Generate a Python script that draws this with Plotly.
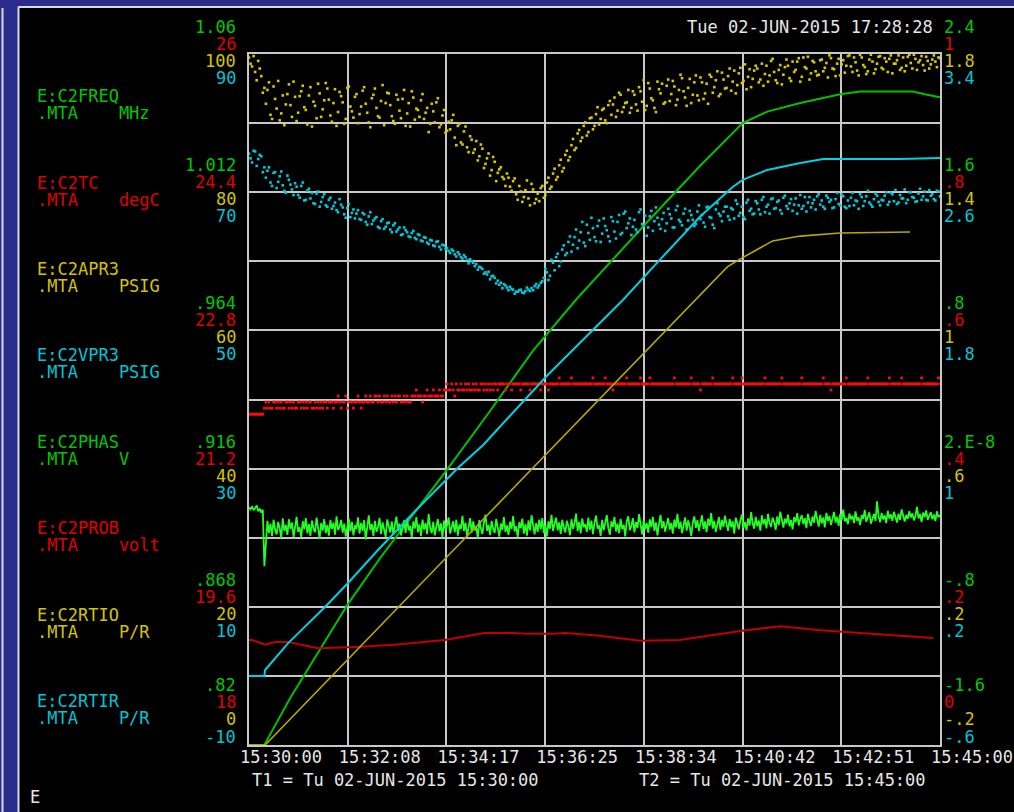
import numpy as np
import plotly.graph_objects as go

W, H = 1014, 812
L, R, T, B = 249, 940, 54, 745   # plot frame in pixels

def xp(px):
    return (px - L) / (R - L)

def yp(py):
    return (B - py) / (B - T)

# ---------------- axis labels / ticks ----------------
time_labels = ["15:30:00", "15:32:08", "15:34:17", "15:36:25",
               "15:38:34", "15:40:42", "15:42:51", "15:45:00"]
t_end = 900.0  # seconds, 15:30:00 -> 15:45:00

freq_ticks = [1.06, 1.012, 0.964, 0.916, 0.868, 0.82]
freq_tick_text = ["1.06", "1.012", ".964", ".916", ".868", ".82"]
tc_ticks = [26, 24.4, 22.8, 21.2, 19.6, 18]
tc_tick_text = ["26", "24.4", "22.8", "21.2", "19.6", "18"]
apr3_ticks = [100, 80, 60, 40, 20, 0]
apr3_tick_text = ["100", "80", "60", "40", "20", "0"]
vpr3_ticks = [90, 70, 50, 30, 10, -10]
vpr3_tick_text = ["90", "70", "50", "30", "10", "-10"]

phas_ticks = [2.4, 1.6, 0.8, 0.0, -0.8, -1.6]
phas_tick_text = ["2.4", "1.6", ".8", "2.E-8", "-.8", "-1.6"]
prob_ticks = [1, 0.8, 0.6, 0.4, 0.2, 0]
prob_tick_text = ["1", ".8", ".6", ".4", ".2", "0"]
rtio_ticks = [1.8, 1.4, 1.0, 0.6, 0.2, -0.2]
rtio_tick_text = ["1.8", "1.4", "1", ".6", ".2", "-.2"]
rtir_ticks = [3.4, 2.6, 1.8, 1.0, 0.2, -0.6]
rtir_tick_text = ["3.4", "2.6", "1.8", "1", ".2", "-.6"]

# ---------------- data ----------------
# C2FREQ (MHz) ramp : time [s], value
freq_t = [0, 20, 22, 53, 92, 129, 171, 214, 259, 314, 370, 427, 513, 587, 643,
          675, 718, 770, 796, 865, 880, 900]
freq_v = [0.820, 0.820, 0.821, 0.836, 0.853, 0.869, 0.885, 0.900, 0.916, 0.936,
          0.957, 0.975, 1.000, 1.021, 1.036, 1.040, 1.043, 1.046, 1.047, 1.047,
          1.046, 1.045]

# C2RTIR (P/R) ramp
rtir_t = [0, 20, 21, 51, 99, 129, 168, 214, 272, 305, 389, 487, 535, 587, 630,
          643, 675, 718, 748, 848, 900]
rtir_v = [-0.201, -0.201, -0.166, -0.010, 0.199, 0.338, 0.529, 0.743, 1.003,
          1.137, 1.542, 1.976, 2.208, 2.456, 2.630, 2.671, 2.729, 2.769, 2.792,
          2.792, 2.798]

# C2RTIO (P/R) ramp
rtio_t = [0, 21, 258, 392, 578, 623, 640, 682, 718, 770, 861]
rtio_v = [-0.200, -0.200, 0.345, 0.653, 1.082, 1.184, 1.207, 1.259, 1.273,
          1.282, 1.285]

# C2PROB (volt)
prob_t = [0, 4, 21, 34, 51, 90, 138, 190, 255, 307, 343, 363, 395, 412, 457,
          509, 561, 640, 692, 744, 796, 848, 891]
prob_v = [0.152, 0.152, 0.145, 0.149, 0.149, 0.140, 0.142, 0.145, 0.152, 0.162,
          0.162, 0.161, 0.161, 0.162, 0.158, 0.151, 0.152, 0.165, 0.172, 0.166,
          0.162, 0.158, 0.155]

# C2APR3 (PSIG) readings: set A at t = 0,4,8..., set B at t = 2,6,10...
apr3_a = [
    99.5, 98.2, 97.4, 99.0, 96.8, 95.1,
    94.8, 91.2, 95.3, 92.1, 90.4, 94.0, 92.7, 95.6, 90.9, 93.8,
    91.5, 94.6, 92.3, 89.8, 95.2, 93.1, 90.7, 94.3, 92.0, 95.8,
    93.4, 90.2, 94.9, 91.6, 93.9, 89.9, 95.1, 92.4, 90.8, 94.2,
    91.3, 94.7, 92.8, 90.1, 93.6, 95.0, 91.0, 93.2, 89.7, 94.4,
    92.6, 90.3, 94.1, 91.8, 93.5, 89.6, 92.9, 94.6, 90.5, 91.9,
    93.3, 90.6, 92.2, 89.9, 91.7, 93.0, 89.4, 91.1, 88.6, 90.2,
    90.4, 87.9, 89.6, 87.2, 88.8, 86.5, 88.1, 85.7, 87.4, 85.2,
    86.3, 84.1, 85.6, 83.2, 84.4, 82.8, 83.6, 81.9, 82.7, 80.8,
    81.6, 79.7, 80.9, 78.6, 80.3, 79.1, 81.2, 78.4, 79.8, 80.6,
    79.2, 81.4, 80.5, 82.7, 81.8, 83.9, 83.0, 85.4, 84.6, 86.8,
    86.1, 88.5, 87.4, 89.6, 88.2, 90.7, 89.1, 91.3, 89.8, 91.9,
    90.4, 92.6, 91.2, 93.7, 91.8, 94.1, 92.3, 93.0, 91.5, 94.6,
    92.7, 95.2, 93.1, 91.9, 95.8, 93.6, 92.2, 96.0, 94.3, 92.8,
    95.4, 93.2, 96.1, 92.6, 94.8, 96.5, 93.7, 95.1, 92.9, 95.9,
    94.0, 96.6, 93.5, 95.7, 97.0, 94.4, 96.2, 93.9, 97.3, 95.0,
    96.8, 94.7, 97.6, 95.5, 98.0, 96.1, 94.9, 97.8, 96.4, 98.3,
    95.9, 98.6, 97.1, 96.0, 99.0, 97.4, 95.8, 98.4, 97.0, 99.2,
    96.5, 98.9, 97.7, 99.4, 96.7, 98.1, 99.6, 97.2, 98.8, 96.9,
    99.1, 97.5, 98.7, 99.8, 97.9, 96.8, 99.3, 98.5, 97.3, 99.7,
    98.2, 99.5, 97.6, 99.9, 98.4, 97.1, 99.2, 98.9, 97.8, 99.6,
    98.0, 99.4, 97.4, 99.8, 98.6, 99.1, 97.7, 99.5, 98.3, 99.9,
    97.9, 99.3, 98.8, 99.7, 97.6, 99.0, 98.5, 99.8, 98.1, 99.4,
]
apr3_b = [
    98.6, 99.7, 96.2, 97.9, 94.4,
    92.8, 95.9, 90.6, 93.5, 96.1, 91.4, 89.7, 94.2, 92.6, 96.0,
    90.3, 93.9, 95.4, 91.9, 94.0, 89.5, 92.5, 95.7, 90.9, 93.3,
    95.0, 91.1, 92.9, 89.6, 94.5, 93.0, 90.6, 95.3, 91.7, 93.8,
    90.0, 92.4, 95.2, 91.5, 89.4, 94.1, 92.2, 90.8, 95.5, 92.9,
    94.3, 91.0, 89.9, 93.4, 90.7, 94.8, 91.4, 89.5, 93.7, 92.1,
    90.9, 94.2, 91.5, 88.7, 92.8, 90.1, 93.6, 89.8, 91.9, 88.9,
    89.1, 91.2, 86.8, 89.9, 86.9, 89.5, 85.8, 87.6, 86.2, 84.6,
    86.9, 83.5, 84.9, 82.4, 85.1, 81.6, 83.3, 82.2, 80.9, 82.1,
    80.2, 82.0, 78.9, 80.1, 79.3, 81.7, 78.1, 80.4, 79.0, 78.7,
    80.9, 79.6, 82.1, 80.8, 83.4, 82.2, 84.7, 83.5, 86.0, 85.1,
    87.7, 86.4, 89.0, 87.9, 90.1, 88.7, 90.8, 89.6, 92.3, 90.6,
    92.1, 90.0, 93.2, 92.7, 90.9, 94.4, 91.6, 92.9, 94.8, 92.2,
    94.1, 91.8, 94.6, 96.2, 92.5, 95.0, 93.3, 91.6, 94.9, 95.7,
    93.0, 96.3, 94.2, 95.3, 93.4, 97.0, 94.6, 92.5, 96.4, 94.1,
    96.9, 93.3, 95.9, 94.3, 92.8, 96.7, 95.2, 97.5, 94.2, 96.3,
    95.1, 97.9, 96.0, 94.3, 97.2, 95.8, 98.5, 96.7, 95.2, 97.6,
    97.9, 96.3, 95.4, 98.3, 96.9, 99.3, 96.2, 97.7, 95.6, 98.1,
    98.3, 96.1, 97.4, 98.9, 96.0, 99.5, 97.9, 96.3, 99.0, 97.5,
    97.0, 99.2, 98.0, 96.6, 99.4, 97.8, 98.6, 96.9, 99.1, 98.3,
    99.8, 97.4, 98.8, 96.9, 99.5, 98.1, 97.5, 99.9, 97.2, 98.6,
    99.7, 97.8, 98.9, 99.3, 97.2, 98.6, 99.8, 98.0, 97.5, 99.6,
    98.7, 99.9, 97.7, 99.1, 98.4, 99.6, 97.9, 99.2, 98.9, 99.5,
]

# C2VPR3 (PSIG) readings: set A at t = 0,4,8..., set B at t = 2,6,10...
vpr3_a = [
    75.6, 74.3, 75.9, 74.8, 75.2, 73.6,
    73.1, 71.4, 72.8, 70.6, 72.3, 71.0, 69.9, 71.8, 70.4, 71.3,
    69.6, 70.9, 68.8, 70.2, 69.1, 68.4, 69.8, 67.9, 69.3, 68.1,
    68.9, 67.6, 68.5, 67.1, 68.2, 66.8, 67.7, 66.4, 67.5, 66.9,
    66.1, 67.0, 65.7, 66.5, 65.4, 66.2, 65.0, 65.8, 64.7, 65.5,
    64.6, 65.2, 64.3, 64.9, 63.9, 64.5, 63.6, 64.1, 63.4, 63.9,
    63.0, 63.5, 62.7, 63.1, 62.3, 62.8, 62.1, 62.4, 61.8, 61.5,
    61.7, 61.0, 61.3, 60.6, 60.9, 60.2, 60.3, 59.8, 59.6, 59.2,
    58.9, 58.4, 58.5, 57.8, 57.6, 57.2, 56.9, 56.7, 56.2, 56.3,
    55.9, 55.6, 55.8, 55.5, 55.7, 55.9, 56.1, 56.4, 56.2, 56.9,
    57.6, 58.4, 57.9, 59.8, 60.6, 59.3, 61.7, 60.9, 62.8, 61.4,
    63.5, 61.9, 64.2, 62.7, 65.3, 63.1, 64.8, 62.9, 65.9, 64.0,
    65.1, 63.6, 66.4, 64.3, 65.7, 63.9, 66.9, 64.8, 66.2, 65.0,
    64.6, 67.1, 65.4, 66.6, 64.9, 67.3, 65.8, 66.3, 64.7, 67.0,
    65.5, 66.8, 64.9, 67.4, 66.0, 65.2, 67.6, 65.9, 66.7, 65.1,
    67.2, 66.1, 65.6, 67.8, 66.4, 65.3, 67.5, 66.9, 65.8, 67.9,
    66.5, 67.7, 66.2, 68.3, 67.0, 66.4, 68.5, 67.3, 66.8, 68.7,
    67.5, 68.9, 67.1, 68.2, 69.0, 67.6, 68.6, 67.4, 69.2, 68.0,
    68.4, 67.3, 69.1, 68.1, 67.6, 69.3, 68.5, 67.8, 68.9, 69.4,
    68.2, 67.9, 69.5, 68.6, 67.7, 69.0, 68.3, 69.6, 67.9, 68.8,
    69.2, 68.1, 68.7, 69.7, 68.0, 69.4, 68.5, 67.9, 69.8, 68.6,
    68.9, 69.5, 68.2, 69.9, 68.7, 68.3, 69.6, 69.1, 68.4, 70.0,
    69.3, 68.6, 69.8, 68.9, 70.1, 68.8, 69.5, 69.0, 70.2, 69.4,
]
vpr3_b = [
    74.9, 76.0, 73.8, 75.4, 72.9,
    72.1, 73.6, 70.9, 72.9, 71.5, 73.0, 70.2, 72.4, 71.1, 69.6,
    70.8, 69.2, 71.4, 68.9, 70.5, 69.9, 68.3, 70.1, 68.6, 69.7,
    67.9, 69.2, 68.0, 67.4, 69.0, 67.8, 66.3, 68.3, 67.0, 66.2,
    67.4, 66.0, 66.8, 65.3, 67.1, 65.9, 66.4, 64.8, 66.1, 65.0,
    65.6, 64.2, 65.5, 64.6, 63.8, 64.9, 64.2, 63.5, 64.4, 63.2,
    63.8, 62.9, 63.4, 62.5, 63.0, 62.2, 62.9, 61.7, 62.3, 61.9,
    61.2, 61.5, 60.7, 61.0, 60.4, 60.6, 59.7, 60.0, 59.3, 58.8,
    59.1, 58.2, 58.1, 57.4, 57.9, 56.8, 56.6, 56.1, 56.5, 55.8,
    56.0, 55.3, 55.6, 55.9, 55.4, 56.2, 55.7, 55.8, 56.7, 56.5,
    57.1, 58.9, 57.3, 60.2, 58.7, 61.1, 60.0, 62.3, 61.2, 63.6,
    62.4, 64.6, 63.0, 65.7, 62.2, 64.1, 66.3, 63.5, 65.1, 62.8,
    66.2, 64.5, 62.9, 65.8, 63.3, 66.7, 64.1, 67.2, 65.5, 63.8,
    66.0, 64.2, 67.5, 65.1, 63.7, 66.5, 64.4, 67.8, 65.3, 66.1,
    64.4, 67.6, 66.2, 64.9, 68.0, 65.7, 66.9, 64.6, 67.3, 66.0,
    65.4, 68.1, 66.7, 65.0, 67.9, 66.3, 64.8, 68.4, 66.6, 67.2,
    67.9, 66.0, 67.5, 68.8, 66.6, 67.9, 66.1, 68.9, 67.6, 66.9,
    68.4, 66.8, 69.3, 67.9, 66.9, 69.1, 67.7, 68.8, 66.9, 69.5,
    67.6, 69.0, 68.2, 66.9, 69.6, 68.0, 67.2, 69.3, 68.4, 67.5,
    69.7, 68.8, 67.6, 69.2, 68.9, 67.8, 69.9, 68.1, 69.4, 67.7,
    68.0, 69.9, 68.8, 67.6, 69.3, 68.7, 70.2, 68.2, 69.0, 69.5,
    68.1, 68.8, 70.0, 68.6, 69.7, 70.3, 68.5, 69.1, 70.4, 68.9,
    70.0, 69.2, 68.7, 70.5, 69.4, 68.9, 70.3, 69.7, 68.8, 70.1,
]

# C2PHAS (V) readings every 2 s
phas_v = [
    -0.224, -0.236, -0.219, -0.241, -0.228, -0.214, -0.247, -0.232, -0.255, -0.238,
    -0.565, -0.420, -0.302, -0.372, -0.318, -0.391, -0.296, -0.354, -0.381, -0.309,
    -0.345, -0.402, -0.288, -0.361, -0.327, -0.384, -0.293, -0.350, -0.312, -0.396,
    -0.331, -0.279, -0.366, -0.340, -0.398, -0.305, -0.352, -0.287, -0.375, -0.321,
    -0.390, -0.301, -0.346, -0.368, -0.284, -0.337, -0.405, -0.315, -0.359, -0.292,
    -0.374, -0.326, -0.388, -0.298, -0.348, -0.312, -0.382, -0.276, -0.355, -0.336,
    -0.297, -0.371, -0.319, -0.393, -0.342, -0.290, -0.363, -0.308, -0.386, -0.329,
    -0.351, -0.282, -0.377, -0.314, -0.360, -0.299, -0.410, -0.333, -0.271, -0.357,
    -0.320, -0.389, -0.303, -0.366, -0.339, -0.285, -0.378, -0.311, -0.352, -0.395,
    -0.294, -0.344, -0.370, -0.307, -0.383, -0.325, -0.278, -0.362, -0.318, -0.387,
    -0.339, -0.300, -0.372, -0.289, -0.358, -0.331, -0.397, -0.306, -0.347, -0.280,
    -0.368, -0.323, -0.391, -0.295, -0.353, -0.316, -0.380, -0.263, -0.343, -0.374,
    -0.309, -0.386, -0.335, -0.292, -0.364, -0.317, -0.399, -0.301, -0.356, -0.328,
    -0.283, -0.376, -0.340, -0.305, -0.369, -0.296, -0.388, -0.324, -0.350, -0.273,
    -0.361, -0.313, -0.394, -0.330, -0.287, -0.371, -0.306, -0.357, -0.338, -0.401,
    -0.298, -0.345, -0.379, -0.312, -0.266, -0.360, -0.326, -0.385, -0.303, -0.349,
    -0.372, -0.291, -0.337, -0.394, -0.318, -0.355, -0.281, -0.367, -0.329, -0.384,
    -0.308, -0.350, -0.275, -0.363, -0.334, -0.397, -0.311, -0.345, -0.290, -0.376,
    -0.322, -0.388, -0.300, -0.358, -0.270, -0.341, -0.381, -0.315, -0.366, -0.296,
    -0.352, -0.287, -0.374, -0.327, -0.392, -0.305, -0.348, -0.268, -0.361, -0.319,
    -0.284, -0.357, -0.311, -0.378, -0.296, -0.343, -0.369, -0.302, -0.335, -0.386,
    -0.293, -0.349, -0.317, -0.260, -0.362, -0.308, -0.375, -0.289, -0.340, -0.321,
    -0.366, -0.283, -0.354, -0.301, -0.379, -0.314, -0.272, -0.347, -0.328, -0.390,
    -0.297, -0.358, -0.312, -0.269, -0.345, -0.383, -0.306, -0.337, -0.280, -0.364,
    -0.318, -0.374, -0.291, -0.350, -0.325, -0.392, -0.303, -0.276, -0.356, -0.333,
    -0.287, -0.369, -0.309, -0.344, -0.263, -0.326, -0.381, -0.299, -0.352, -0.315,
    -0.371, -0.294, -0.338, -0.279, -0.360, -0.311, -0.387, -0.322, -0.268, -0.346,
    -0.304, -0.365, -0.330, -0.286, -0.353, -0.316, -0.377, -0.295, -0.341, -0.262,
    -0.348, -0.307, -0.373, -0.320, -0.283, -0.359, -0.300, -0.336, -0.389, -0.313,
    -0.277, -0.343, -0.298, -0.362, -0.319, -0.270, -0.351, -0.306, -0.368, -0.289,
    -0.331, -0.258, -0.347, -0.302, -0.366, -0.314, -0.281, -0.355, -0.297, -0.338,
    -0.273, -0.324, -0.360, -0.291, -0.339, -0.305, -0.376, -0.284, -0.326, -0.351,
    -0.299, -0.265, -0.343, -0.310, -0.357, -0.288, -0.330, -0.252, -0.318, -0.348,
    -0.280, -0.334, -0.301, -0.359, -0.271, -0.322, -0.293, -0.346, -0.262, -0.315,
    -0.337, -0.284, -0.309, -0.355, -0.276, -0.327, -0.249, -0.303, -0.341, -0.290,
    -0.318, -0.266, -0.335, -0.298, -0.352, -0.281, -0.311, -0.258, -0.329, -0.292,
    -0.270, -0.321, -0.287, -0.344, -0.262, -0.305, -0.332, -0.277, -0.313, -0.245,
    -0.299, -0.336, -0.268, -0.317, -0.283, -0.340, -0.256, -0.302, -0.274, -0.326,
    -0.289, -0.251, -0.312, -0.279, -0.331, -0.264, -0.297, -0.238, -0.306, -0.285,
    -0.322, -0.260, -0.294, -0.273, -0.315, -0.248, -0.301, -0.282, -0.327, -0.269,
    -0.291, -0.240, -0.308, -0.276, -0.253, -0.319, -0.286, -0.262, -0.304, -0.190,
    -0.278, -0.310, -0.257, -0.295, -0.271, -0.316, -0.244, -0.289, -0.265, -0.302,
    -0.250, -0.284, -0.312, -0.261, -0.297, -0.236, -0.279, -0.306, -0.268, -0.291,
    -0.246, -0.283, -0.259, -0.300, -0.274, -0.221, -0.288, -0.263, -0.309, -0.255,
    -0.280, -0.242, -0.296, -0.270, -0.252, -0.293, -0.266, -0.304, -0.247, -0.281,
    -0.268,
]

# C2TC (degC): quantized readings every 2 s, stored as level indices
tc_levels = [21.83, 21.90, 21.97, 22.04, 22.11, 22.18, 22.25]
tc_codes = (
    "0000000000"
    "1212112212" "1211221212" "1122121212" "2112121212" "212"
    "2212232122" "3122212232" "12"
    "2322322332" "3223232232" "3233223232" "2"
    "3334333233" "4333433343" "3"
    "4454454354" "4544545445" "4544554545" "454"
    "5545555455" "5455555455" "5554555555" "4555545"
    "5555565555" "5556555555" "5555555655" "5555565555" "4555555556"
    "5555555565" "5555655555" "5555555555" "6555555555" "5655555455"
    "5555565555" "5555555565" "5555655555" "5555555556" "5555555555"
    "6555555555" "5556555555" "5555555655" "5545555555" "5565555555"
    "5555556555" "5555555555" "6555555565" "5555555555" "5655555555"
    "5565"
)

# ---------------- colours / fonts ----------------
GREEN_TXT, RED_TXT, YEL_TXT, CYAN_TXT, WHITE = "#00c800", "#e00000", "#d2c400", "#00c4d6", "#e6e6e6"
BLUE = "#2c2c8c"
GRID = "#c8c8c8"
FONT = "DejaVu Sans Mono"
FS = 17

def even_times(n, step, start=0.0):
    return start + np.arange(n) * step

fig = go.Figure()

dot = dict(symbol="square", size=2.6, line=dict(width=0))
# noisy scatter channels
apr3_t = np.concatenate([even_times(len(apr3_a), 4.0), even_times(len(apr3_b), 4.0, 2.0)])
fig.add_trace(go.Scatter(x=apr3_t, y=apr3_a + apr3_b, mode="markers", yaxis="y",
                         marker=dict(dot, color="#d8c800"), hoverinfo="skip"))
vpr3_t = np.concatenate([even_times(len(vpr3_a), 4.0), even_times(len(vpr3_b), 4.0, 2.0)])
fig.add_trace(go.Scatter(x=vpr3_t, y=vpr3_a + vpr3_b, mode="markers", yaxis="y4",
                         marker=dict(dot, color="#00c8d8"), hoverinfo="skip"))
tc_v = [tc_levels[int(c)] for c in tc_codes]
fig.add_trace(go.Scatter(x=even_times(len(tc_v), 2.0), y=tc_v, mode="markers", yaxis="y3",
                         marker=dict(symbol="square", size=2.8, color="#f01010", line=dict(width=0)),
                         hoverinfo="skip"))
fig.add_trace(go.Scatter(x=prob_t, y=prob_v, mode="lines", yaxis="y6",
                         line=dict(color="#c00000", width=2), hoverinfo="skip"))
fig.add_trace(go.Scatter(x=even_times(len(phas_v), 2.0), y=phas_v, mode="lines", yaxis="y5",
                         line=dict(color="#22ff22", width=1.8), hoverinfo="skip"))
# ramps
fig.add_trace(go.Scatter(x=rtio_t, y=rtio_v, mode="lines", yaxis="y7",
                         line=dict(color="#b8a800", width=1.6), hoverinfo="skip"))
fig.add_trace(go.Scatter(x=rtir_t, y=rtir_v, mode="lines", yaxis="y8",
                         line=dict(color="#00d0e0", width=2), hoverinfo="skip"))
fig.add_trace(go.Scatter(x=freq_t, y=freq_v, mode="lines", yaxis="y2",
                         line=dict(color="#00c000", width=2), hoverinfo="skip"))

ranges = {
    "yaxis": [0, 100], "yaxis2": [0.82, 1.06], "yaxis3": [18, 26], "yaxis4": [-10, 90],
    "yaxis5": [-1.6, 2.4], "yaxis6": [0, 1], "yaxis7": [-0.2, 1.8], "yaxis8": [-0.6, 3.4],
}

layout = dict(
    width=W, height=H, autosize=False,
    margin=dict(l=L, r=W - R, t=T, b=H - B, pad=0, autoexpand=False),
    paper_bgcolor="black", plot_bgcolor="black",
    showlegend=False,
    xaxis=dict(range=[0, t_end], tickvals=[t_end * k / 7 for k in range(8)], ticktext=time_labels,
               showgrid=True, gridcolor=GRID, gridwidth=2, zeroline=False,
               showline=True, linecolor=GRID, linewidth=2, mirror=True, ticks="",
               tickfont=dict(family=FONT, size=FS, color=WHITE), ticklabelshift=32,
               ticklabelstandoff=-4, automargin=False, fixedrange=True),
    yaxis=dict(range=ranges["yaxis"], dtick=10, showgrid=True, gridcolor=GRID, gridwidth=2,
               zeroline=False, showline=True, linecolor=GRID, linewidth=2, mirror=True,
               showticklabels=False, ticks="", automargin=False, fixedrange=True),
)
for k in ["yaxis2", "yaxis3", "yaxis4", "yaxis5", "yaxis6", "yaxis7", "yaxis8"]:
    layout[k] = dict(range=ranges[k], overlaying="y", visible=False, automargin=False,
                     fixedrange=True)

ann = []

def text(px, py, s, color, anchor="left"):
    ann.append(dict(x=xp(px), y=yp(py), xref="paper", yref="paper", text=s, showarrow=False,
                    xanchor=anchor, yanchor="middle", font=dict(family=FONT, size=FS, color=color)))

# tick label groups (4 channels per side)
group_offsets = [[-27, -10, 7, 24]] * 5 + [[-60, -43, -26, -8]]
left_sets = [(freq_ticks, freq_tick_text, "y2", GREEN_TXT), (tc_ticks, tc_tick_text, "y3", RED_TXT),
             (apr3_ticks, apr3_tick_text, "y", YEL_TXT), (vpr3_ticks, vpr3_tick_text, "y4", CYAN_TXT)]
right_sets = [(phas_ticks, phas_tick_text, "y5", GREEN_TXT), (prob_ticks, prob_tick_text, "y6", RED_TXT),
              (rtio_ticks, rtio_tick_text, "y7", YEL_TXT), (rtir_ticks, rtir_tick_text, "y8", CYAN_TXT)]
for side, sets in (("left", left_sets), ("right", right_sets)):
    for ci, (vals, labs, yref, col) in enumerate(sets):
        for gi, (v, lab) in enumerate(zip(vals, labs)):
            ann.append(dict(x=0 if side == "left" else 1, xref="paper", y=v, yref=yref,
                            text=lab, showarrow=False,
                            xanchor="right" if side == "left" else "left", yanchor="middle",
                            xshift=-11 if side == "left" else 2, yshift=-group_offsets[gi][ci],
                            font=dict(family=FONT, size=FS, color=col)))

# channel names
NB = "\u00a0"
channels = [("E:C2FREQ", "MHz", GREEN_TXT, 96), ("E:C2TC", "degC", RED_TXT, 183),
            ("E:C2APR3", "PSIG", YEL_TXT, 269), ("E:C2VPR3", "PSIG", CYAN_TXT, 355),
            ("E:C2PHAS", "V", GREEN_TXT, 442), ("E:C2PROB", "volt", RED_TXT, 528),
            ("E:C2RTIO", "P/R", YEL_TXT, 615), ("E:C2RTIR", "P/R", CYAN_TXT, 701)]
for name, unit, col, py in channels:
    text(35, py, name, col)
    text(35, py + 17, ".MTA" + NB * 4 + unit, col)

text(685, 27, "Tue 02-JUN-2015 17:28:28", WHITE)
text(250, 780, "T1 = Tu 02-JUN-2015 15:30:00", WHITE)
text(637, 780, "T2 = Tu 02-JUN-2015 15:45:00", WHITE)
text(28, 797, "E", WHITE)

layout["annotations"] = ann

# window frame (blue border + light edge lines)
shapes = [
    dict(type="rect", xref="paper", yref="paper", x0=xp(-2), x1=xp(18), y0=yp(H + 2), y1=yp(-2),
         fillcolor=BLUE, line=dict(width=0), layer="below"),
    dict(type="rect", xref="paper", yref="paper", x0=xp(-2), x1=xp(W + 2), y0=yp(7), y1=yp(-2),
         fillcolor=BLUE, line=dict(width=0), layer="below"),
    dict(type="line", xref="paper", yref="paper", x0=xp(18.5), x1=xp(18.5), y0=yp(7), y1=yp(H + 2),
         line=dict(color="#d8d8e8", width=2)),
    dict(type="line", xref="paper", yref="paper", x0=xp(18), x1=xp(W + 2), y0=yp(7), y1=yp(7),
         line=dict(color="#d8d8e8", width=2)),
    dict(type="line", xref="paper", yref="paper", x0=xp(2.5), x1=xp(2.5), y0=yp(8), y1=yp(H + 2),
         line=dict(color="#d8d8e8", width=2)),
]
layout["shapes"] = shapes

fig.update_layout(**layout)
fig.write_html("out.html", config={"displayModeBar": False},
               post_script="document.body.style.margin='0';document.body.style.overflow='hidden';")
